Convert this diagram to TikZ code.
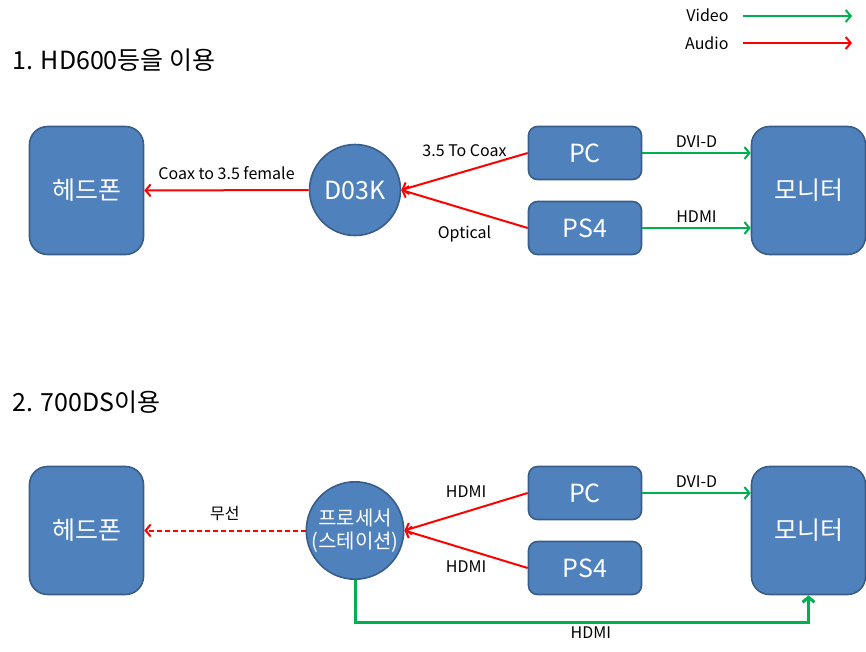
\documentclass[tikz,border=0pt]{standalone}
\usepackage{fontspec}
\setmainfont{Noto Sans CJK KR}
\usepackage{tikz}
\usetikzlibrary{arrows.meta}
\definecolor{DevFill}{HTML}{4F81BD}
\definecolor{DevLine}{HTML}{385D8A}
\definecolor{SigRed}{HTML}{FF0000}
\definecolor{SigGreen}{HTML}{00B050}
\tikzset{
  siglabel/.style={font=\fontsize{16}{18}\selectfont, text=black},
  figtitle/.style={font=\fontsize{25}{28}\selectfont, text=black, anchor=west},
  devbox/.style={draw=DevLine, fill=DevFill, line width=1.6pt, text=white, font=\fontsize{25}{28}\selectfont},
  tallbox/.style={devbox, minimum width=114pt, minimum height=128pt, rounded corners=18pt},
  flatbox/.style={devbox, minimum width=113pt, minimum height=53pt, rounded corners=9pt},
  hubcircle/.style={devbox, circle, minimum size=91pt, inner sep=0pt},
  audioarrow/.style={-{Straight Barb[length=5pt,width=12pt]}, line width=2pt, draw=SigRed},
  videoarrow/.style={-{Straight Barb[length=5pt,width=12pt]}, line width=2pt, draw=SigGreen}
}
\begin{document}
\begin{tikzpicture}[x=1pt, y=-1pt]
\useasboundingbox (0,0) rectangle (866,651);
% legend
\node[siglabel, anchor=east] (vidtxt) at (732,15) {Video};
\node[siglabel, anchor=east] (audtxt) at (732,43) {Audio};
\coordinate (vidA) at (743,16);
\coordinate (vidB) at (852,16);
\coordinate (audA) at (743,43);
\coordinate (audB) at (852,43);
\draw[videoarrow] (vidA) -- (vidB);
\draw[audioarrow] (audA) -- (audB);
% 1
\node[figtitle] (title1) at (9,60) {1. HD600등을 이용};
\node[tallbox] (hp1) at (86.5,190.5) {헤드폰};
\node[hubcircle] (dac) at (355,190) {D03K};
\node[flatbox] (pc1) at (585,153) {PC};
\node[flatbox] (ps1) at (585,228) {PS4};
\node[tallbox] (mon1) at (808.5,190.5) {모니터};
\draw[audioarrow] (dac) -- (hp1) node[midway, above=6pt, siglabel] {Coax to 3.5 female};
\draw[audioarrow] (pc1.west) -- (dac.east) node[midway, above=10pt, siglabel] {3.5 To Coax};
\draw[audioarrow] (ps1.west) -- (dac.east) node[midway, below=12pt, siglabel] {Optical};
\draw[videoarrow] (pc1) -- (pc1 -| mon1.west) node[midway, above=1pt, siglabel] {DVI-D};
\draw[videoarrow] (ps1) -- (ps1 -| mon1.west) node[midway, above=1pt, siglabel] {HDMI};
% 2
\node[figtitle] (title2) at (9,402) {2. 700DS이용};
\node[tallbox] (hp2) at (86.5,530.5) {헤드폰};
\node[hubcircle, font=\fontsize{20}{23}\selectfont, align=center] (proc) at (355,530.5) {프로세서\\(스테이션)};
\node[flatbox] (pc2) at (585,493) {PC};
\node[flatbox] (ps2) at (585,568) {PS4};
\node[tallbox] (mon2) at (808.5,530.5) {모니터};
\draw[audioarrow, dash pattern=on 5pt off 3pt] (proc) -- (hp2) node[midway, above=5pt, siglabel] {무선};
\draw[audioarrow] (pc2.west) -- (proc.east) node[midway, above=10pt, siglabel] {HDMI};
\draw[audioarrow] (ps2.west) -- (proc.east) node[midway, below=7pt, siglabel] {HDMI};
\draw[videoarrow] (pc2) -- (pc2 -| mon2.west) node[midway, above=1pt, siglabel] {DVI-D};
\draw[videoarrow, line width=3pt] (proc.south) -- ++(0,42) -| (mon2.south) node[pos=0.26, below=0pt, siglabel] {HDMI};
\end{tikzpicture}
\end{document}
